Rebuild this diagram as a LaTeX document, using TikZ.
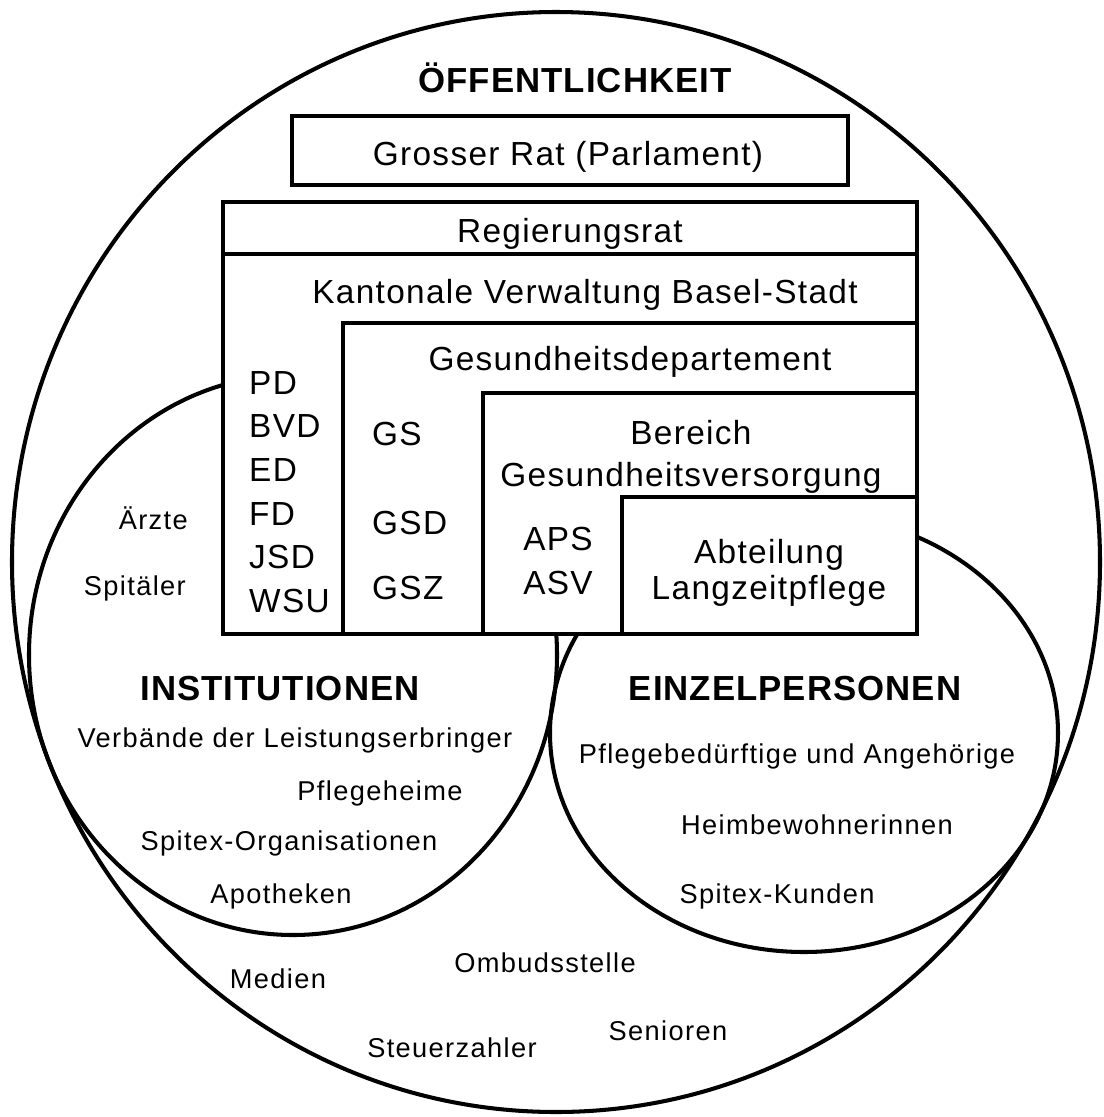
\documentclass[tikz,border=0pt]{standalone}
\usepackage{fontspec}
\setmainfont{Liberation Sans}
\newfontfamily\headfont[LetterSpace=3]{Liberation Sans}
\newfontfamily\boxfont[LetterSpace=4]{Liberation Sans}
\newfontfamily\smallfont[LetterSpace=5]{Liberation Sans}
\usetikzlibrary{calc}
\tikzset{
  headlabel/.style={font=\headfont\bfseries\fontsize{19.8}{24}\selectfont, anchor=mid},
  boxlabel/.style={font=\boxfont\fontsize{19}{24.7}\selectfont, anchor=mid},
  smalllabel/.style={font=\smallfont\fontsize{15.5}{18}\selectfont, anchor=mid},
  box/.style={line width=2.8pt, fill=white},
  ring/.style={line width=2.3pt}
}

\begin{document}
\begin{tikzpicture}[x=0.02cm, y=-0.02cm]
			%%%%% START %%%%%
			\useasboundingbox (0, 0) rectangle (1104, 1117);
			
			\draw[ring] (556, 562) ellipse (544 and 550);
			\draw[ring] (293, 655) ellipse (264 and 280);
			\draw[ring] (804, 733) ellipse (254 and 219);
			
			\draw[box] (292, 116) rectangle (848, 185);
			\draw[box] (223, 202) rectangle (917, 634);
			\draw[line width=2.8pt] (223, 254) -- (917, 254);
			\draw[box] (343, 323) rectangle (917, 634);
			\draw[box] (483, 393) rectangle (917, 634);
			\draw[box] (622, 497) rectangle (917, 634);
			
			\node[headlabel] (oeff) at (575, 88) {ÖFFENTLICHKEIT};
			\node[boxlabel] (parl) at (568, 161) {Grosser Rat (Parlament)};
			\node[boxlabel] (regrat) at (570, 238) {Regierungsrat};
			\node[boxlabel] (kanton) at (585, 299) {Kantonale Verwaltung Basel-Stadt};
			\node[boxlabel] (gd) at (630, 366) {Gesundheitsdepartement};
			\node[boxlabel, align=center, anchor=center] (bgv) at (691, 457) {Bereich\\[-1pt]Gesundheitsversorgung};
			\node[boxlabel, align=center, anchor=center, font=\boxfont\fontsize{19}{20.4}\selectfont] (alp) at (769, 573) {Abteilung\\Langzeitpflege};
			
			\node[boxlabel, anchor=west] (pd) at (243, 383) {PD};
			\node[boxlabel, anchor=west] (bvd) at (243, 426) {BVD};
			\node[boxlabel, anchor=west] (ed) at (243, 470) {ED};
			\node[boxlabel, anchor=west] (fd) at (243, 514) {FD};
			\node[boxlabel, anchor=west] (jsd) at (243, 557) {JSD};
			\node[boxlabel, anchor=west] (wsu) at (243, 601) {WSU};
			
			\node[boxlabel, anchor=west] (gs) at (366, 434) {GS};
			\node[boxlabel, anchor=west] (gsd) at (366, 523) {GSD};
			\node[boxlabel, anchor=west] (gsz) at (366, 588) {GSZ};
			\node[boxlabel, align=center, anchor=center, font=\boxfont\fontsize{19}{25.5}\selectfont] (aps) at (558, 561) {APS\\ASV};
			
			\node[smalllabel, anchor=east] (aerzte) at (194, 518) {Ärzte};
			\node[smalllabel, anchor=east] (spitaeler) at (192, 588) {Spitäler};
			\node[headlabel] (inst) at (280, 696) {INSTITUTIONEN};
			\node[smalllabel] (verb) at (295, 743) {Verbände der Leistungserbringer};
			\node[smalllabel] (pheime) at (380, 796) {Pflegeheime};
			\node[smalllabel] (sorg) at (289, 846) {Spitex-Organisationen};
			\node[smalllabel] (apoth) at (281, 899) {Apotheken};
			
			\node[headlabel] (einzel) at (795, 696) {EINZELPERSONEN};
			\node[smalllabel] (pflbed) at (797, 759) {Pflegebedürftige und Angehörige};
			\node[smalllabel] (heimbew) at (817, 830) {Heimbewohnerinnen};
			\node[smalllabel] (skunden) at (777, 899) {Spitex-Kunden};
			
			\node[smalllabel] (medien) at (278, 984) {Medien};
			\node[smalllabel] (ombud) at (545, 968) {Ombudsstelle};
			\node[smalllabel] (steuer) at (452, 1053) {Steuerzahler};
			\node[smalllabel] (senioren) at (668, 1036) {Senioren};
			%%%%% END %%%%%
\end{tikzpicture}
\end{document}
